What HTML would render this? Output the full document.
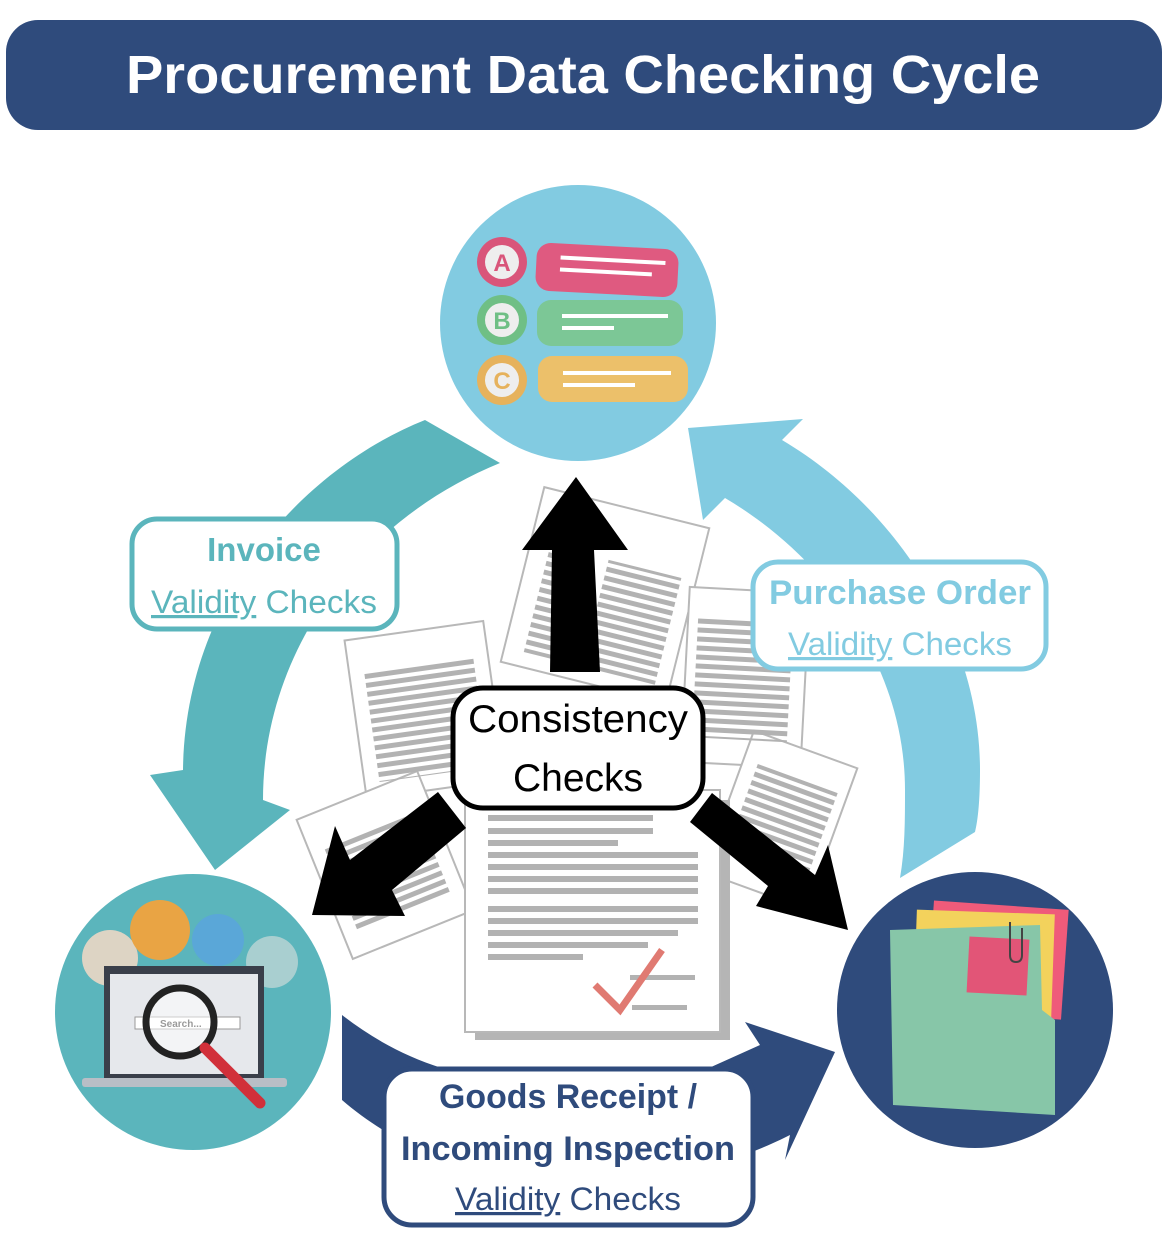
<!DOCTYPE html>
<html><head><meta charset="utf-8"><style>
html,body{margin:0;padding:0;background:#fff;}
svg{display:block;}
text{font-family:"Liberation Sans",sans-serif;}
</style></head><body>
<svg width="1168" height="1248" viewBox="0 0 1168 1248" xmlns="http://www.w3.org/2000/svg">
<defs>
<pattern id="ln" width="10" height="9" patternUnits="userSpaceOnUse"><rect width="10" height="5" fill="#b2b2b2"/></pattern>
</defs>
<rect x="6" y="20" width="1156" height="110" rx="32" fill="#2f4b7c"/>
<text x="126" y="93" textLength="914" lengthAdjust="spacingAndGlyphs" fill="#fff" font-size="54" font-weight="bold">Procurement Data Checking Cycle</text>

<!-- cycle arrows -->
<path d="M425,420 C300,470 185,600 183,770 L150,775 L215,870 L290,810 L263,800 C263,650 360,520 500,463 Z" fill="#5bb5bc"/>
<path d="M688,428 L803,419 L782,440 C900,510 980,640 980,770 C980,800 978,820 975,832 L900,878 C905,850 905,820 905,790 C905,670 830,560 725,498 L703,520 Z" fill="#82cbe1"/>
<path d="M342,1015 C400,1060 460,1080 540,1085 L700,1072 L760,1045 L745,1022 L835,1052 L785,1160 L790,1135 C740,1160 680,1180 578,1182 C480,1182 400,1150 342,1100 Z" fill="#2f4b7c"/>

<!-- circles -->
<circle cx="578" cy="323" r="138" fill="#82cbe1"/>
<circle cx="193" cy="1012" r="138" fill="#5bb5bc"/>
<circle cx="975" cy="1010" r="138" fill="#2f4b7c"/>

<!-- ABC icon -->
<g>
<circle cx="502" cy="262" r="25" fill="#d9557a"/><circle cx="502" cy="262" r="17" fill="#eee"/>
<text x="502" y="271" text-anchor="middle" font-size="24" font-weight="bold" fill="#d9557a">A</text>
<rect x="536" y="246" width="142" height="48" rx="14" fill="#df5a80" transform="rotate(3 607 270)"/>
<rect x="560" y="258" width="105" height="4" fill="#fff" transform="rotate(3 607 270)"/>
<rect x="560" y="270" width="92" height="4" fill="#fff" transform="rotate(3 607 270)"/>
<circle cx="502" cy="320" r="25" fill="#6fbf85"/><circle cx="502" cy="320" r="17" fill="#eee"/>
<text x="502" y="329" text-anchor="middle" font-size="24" font-weight="bold" fill="#6fbf85">B</text>
<rect x="537" y="300" width="146" height="46" rx="14" fill="#7cc796"/>
<rect x="562" y="314" width="106" height="4" fill="#fff"/><rect x="562" y="326" width="52" height="4" fill="#fff"/>
<circle cx="502" cy="380" r="25" fill="#e6b25c"/><circle cx="502" cy="380" r="17" fill="#eee"/>
<text x="502" y="389" text-anchor="middle" font-size="24" font-weight="bold" fill="#e6b25c">C</text>
<rect x="538" y="356" width="150" height="46" rx="14" fill="#ecc06a"/>
<rect x="563" y="371" width="108" height="4" fill="#fff"/><rect x="563" y="383" width="72" height="4" fill="#fff"/>
</g>

<!-- laptop icon -->
<g>
<circle cx="110" cy="958" r="28" fill="#ddd4c4"/><circle cx="160" cy="930" r="30" fill="#e9a444"/>
<circle cx="218" cy="940" r="26" fill="#5aa7d8"/><circle cx="272" cy="962" r="26" fill="#a9cfd0"/>
<rect x="104" y="966" width="160" height="114" fill="#3a3f4a"/>
<rect x="110" y="974" width="148" height="100" fill="#e6e8ec"/>
<rect x="82" y="1078" width="205" height="9" rx="3" fill="#b9bec6"/>
<rect x="135" y="1017" width="105" height="12" fill="#fff" stroke="#999"/>
<text x="160" y="1027" font-size="10" font-weight="bold" fill="#333">Search...</text>
<circle cx="180" cy="1022" r="34" fill="rgba(255,255,255,0.5)" stroke="#222" stroke-width="7"/>
<line x1="205" y1="1048" x2="260" y2="1103" stroke="#d1303a" stroke-width="11" stroke-linecap="round"/>
</g>

<!-- folder icon -->
<g>
<rect x="930" y="905" width="135" height="110" fill="#ef5b7a" transform="rotate(4 997 960)"/>
<rect x="915" y="912" width="138" height="110" fill="#f3d25c" transform="rotate(2 985 965)"/>
<path d="M890,930 L1040,925 L1042,1010 L1055,1020 L1055,1115 L893,1105 Z" fill="#87c6a8"/>
<rect x="968" y="938" width="60" height="56" fill="#e25577" transform="rotate(3 998 966)"/>
<path d="M1010,922 L1010,955 Q1010,962 1016,962 Q1022,962 1022,955 L1022,928" fill="none" stroke="#444" stroke-width="2"/>
</g>

<!-- documents -->
<g fill="#fff" stroke="#b8b8b8" stroke-width="2">
<rect x="520" y="505" width="170" height="180" transform="rotate(14 605 595)"/>
<rect x="355" y="630" width="140" height="160" transform="rotate(-8 425 710)"/>
<rect x="685" y="590" width="120" height="175" transform="rotate(3 745 680)"/>
<rect x="725" y="745" width="110" height="150" transform="rotate(20 780 820)"/>
<rect x="320" y="790" width="130" height="150" transform="rotate(-22 385 865)"/>
</g>
<g fill="url(#ln)">
<rect x="540" y="530" width="30" height="140" transform="rotate(14 605 595)"/>
<rect x="600" y="560" width="75" height="110" transform="rotate(14 605 595)"/>
<rect x="370" y="665" width="110" height="110" transform="rotate(-8 425 710)"/>
<rect x="695" y="620" width="95" height="120" transform="rotate(3 745 680)"/>
<rect x="740" y="775" width="85" height="90" transform="rotate(20 780 820)"/>
<rect x="335" y="825" width="100" height="90" transform="rotate(-22 385 865)"/>
</g>
<rect x="475" y="800" width="255" height="240" fill="#b5b5b5"/>
<rect x="465" y="790" width="255" height="242" fill="#fff" stroke="#b8b8b8" stroke-width="2"/>
<g fill="#b2b2b2">
<rect x="488" y="815" width="165" height="6"/><rect x="488" y="828" width="165" height="6"/>
<rect x="488" y="840" width="130" height="6"/>
<rect x="488" y="852" width="210" height="6"/><rect x="488" y="864" width="210" height="6"/>
<rect x="488" y="876" width="210" height="6"/><rect x="488" y="888" width="210" height="6"/>
<rect x="488" y="906" width="210" height="6"/><rect x="488" y="918" width="210" height="6"/>
<rect x="488" y="930" width="190" height="6"/><rect x="488" y="942" width="160" height="6"/>
<rect x="488" y="954" width="95" height="6"/>
<rect x="630" y="975" width="65" height="5"/><rect x="632" y="1005" width="55" height="5"/>
</g>
<path d="M595,985 L620,1010 L662,950" fill="none" stroke="#e07a72" stroke-width="7"/>

<!-- black arrows -->
<path d="M550,672 L600,672 L594,550 L628,550 L576,477 L522,550 L552,550 Z" fill="#000"/>
<path d="M438,792 L466,828 L392,890 L405,916 L312,915 L335,826 L350,860 Z" fill="#000"/>
<path d="M712,793 L690,822 L768,886 L756,906 L848,930 L828,845 L815,875 Z" fill="#000"/>

<!-- consistency box -->
<rect x="453" y="688" width="250" height="120" rx="30" fill="#fff" stroke="#000" stroke-width="5"/>
<text x="578" y="732" text-anchor="middle" font-size="39" fill="#000" textLength="220" lengthAdjust="spacingAndGlyphs">Consistency</text>
<text x="578" y="791" text-anchor="middle" font-size="39" fill="#000">Checks</text>

<!-- invoice box -->
<rect x="132" y="519" width="265" height="110" rx="25" fill="#fff" stroke="#5bb5bc" stroke-width="5"/>
<text x="264" y="561" text-anchor="middle" font-size="33" font-weight="bold" fill="#5bb5bc">Invoice</text>
<text x="264" y="613" text-anchor="middle" font-size="32" fill="#5bb5bc" textLength="226" lengthAdjust="spacingAndGlyphs"><tspan text-decoration="underline">Validity</tspan> Checks</text>

<!-- PO box -->
<rect x="753" y="562" width="293" height="107" rx="25" fill="#fff" stroke="#82cbe1" stroke-width="5"/>
<text x="900" y="604" text-anchor="middle" font-size="34" font-weight="bold" fill="#82cbe1" textLength="262" lengthAdjust="spacingAndGlyphs">Purchase Order</text>
<text x="900" y="655" text-anchor="middle" font-size="32" fill="#82cbe1" textLength="224" lengthAdjust="spacingAndGlyphs"><tspan text-decoration="underline">Validity</tspan> Checks</text>

<!-- goods box -->
<rect x="384" y="1069" width="369" height="156" rx="28" fill="#fff" stroke="#2f4b7c" stroke-width="5"/>
<text x="568" y="1108" text-anchor="middle" font-size="34" font-weight="bold" fill="#2f4b7c" textLength="258" lengthAdjust="spacingAndGlyphs">Goods Receipt /</text>
<text x="568" y="1160" text-anchor="middle" font-size="34" font-weight="bold" fill="#2f4b7c" textLength="334" lengthAdjust="spacingAndGlyphs">Incoming Inspection</text>
<text x="568" y="1210" text-anchor="middle" font-size="32" fill="#2f4b7c" textLength="226" lengthAdjust="spacingAndGlyphs"><tspan text-decoration="underline">Validity</tspan> Checks</text>
</svg>
</body></html>
